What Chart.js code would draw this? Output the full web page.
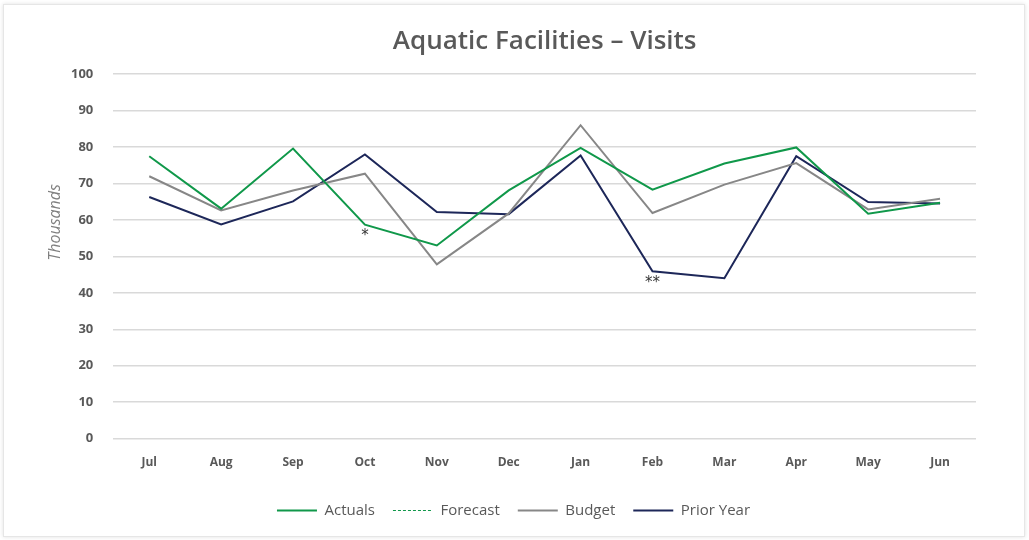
<!DOCTYPE html>
<html>
<head>
<meta charset="utf-8">
<script src="https://cdn.jsdelivr.net/npm/chart.js@4/dist/chart.umd.min.js"></script>
<style>
  html, body { margin: 0; padding: 0; background: #fff; }
  #wrap {
    position: absolute; left: 3px; top: 4px; width: 1020px; height: 531px;
    border: 1px solid #e6e6e6; box-shadow: 0 0 4px rgba(0,0,0,0.12); background: #fff;
  }
</style>
</head>
<body>
<div id="wrap"><canvas id="chart"></canvas></div>
<script>
// Months of the financial year
const months = ['Jul', 'Aug', 'Sep', 'Oct', 'Nov', 'Dec', 'Jan', 'Feb', 'Mar', 'Apr', 'May', 'Jun'];

// Visits, thousands
const actuals   = [77.5, 63.1, 79.6, 58.7, 53.0, 68.1, 79.8, 68.3, 75.5, 79.9, 61.7, 64.7];
const forecast  = [null, null, null, null, null, null, null, null, null, null, null, null];
const budget    = [72.0, 62.6, 68.1, 72.7, 47.8, 61.8, 86.0, 61.9, 69.7, 75.6, 62.9, 65.8];
const priorYear = [66.3, 58.8, 65.1, 78.0, 62.2, 61.6, 77.7, 45.9, 44.0, 77.5, 64.9, 64.5];

// Footnote markers under points
const notes = [
    { series: 0, month: 'Oct', text: '*' },
    { series: 3, month: 'Feb', text: '**' }
];

const yTitle = 'Thousands';
const textGrey = '#595959';

// Draws the footnote asterisks and the y axis caption
const notesPlugin = {
    id: 'notes',
    afterDatasetsDraw(chart) {
        const ctx = chart.ctx;
        const area = chart.chartArea;
        ctx.save();
        ctx.fillStyle = '#333';
        ctx.font = '15px "DejaVu Sans"';
        ctx.textAlign = 'center';
        ctx.textBaseline = 'top';
        notes.forEach(n => {
            const i = months.indexOf(n.month);
            const v = chart.data.datasets[n.series].data[i];
            const x = chart.scales.x.getPixelForValue(i);
            const y = chart.scales.y.getPixelForValue(v);
            ctx.fillText(n.text, x, y + 4);
        });

        // axis caption, sits a bit above the middle like the original
        ctx.translate(area.left - 58, (area.top + area.bottom) / 2 - 34);
        ctx.rotate(-Math.PI / 2);
        ctx.fillStyle = '#7f7f7f';
        ctx.font = 'italic 16px "Open Sans"';
        ctx.textBaseline = 'middle';
        ctx.fillText(yTitle, 0, 0);
        ctx.restore();
    }
};

const ctx = document.getElementById('chart').getContext('2d');
new Chart(ctx, {
    type: 'line',
    data: {
        labels: months,
        datasets: [{
            label: 'Actuals',
            data: actuals,
            borderColor: '#10984a',
            borderWidth: 2,
            pointRadius: 0,
            tension: 0
        }, {
            label: 'Forecast',
            data: forecast,
            borderColor: '#10984a',
            borderWidth: 1,
            borderDash: [3, 2],
            pointRadius: 0
        }, {
            label: 'Budget',
            data: budget,
            borderColor: '#878787',
            borderWidth: 2,
            pointRadius: 0,
            tension: 0
        }, {
            label: 'Prior Year',
            data: priorYear,
            borderColor: '#1d2759',
            borderWidth: 2,
            pointRadius: 0,
            tension: 0
        }]
    },
    options: {
        responsive: true,
        maintainAspectRatio: false,
        animation: false,
        layout: {
            padding: { left: 47, right: 48, top: 21, bottom: 8 }
        },
        scales: {
            x: {
                offset: true,
                grid: { display: false },
                border: { display: false },
                ticks: {
                    color: textGrey,
                    padding: 9,
                    font: { family: '"Open Sans"', size: 12, weight: 'bold' }
                },
                // extra room between the month labels and the key
                afterFit(scale) { scale.height += 6; }
            },
            y: {
                min: 0,
                max: 100,
                ticks: {
                    stepSize: 10,
                    color: textGrey,
                    padding: 20,
                    font: { family: '"Open Sans"', size: 13, weight: 'bold' }
                },
                grid: { color: '#d9d9d9', lineWidth: 1.5, drawTicks: false },
                border: { display: false }
            }
        },
        plugins: {
            title: {
                display: true,
                fullSize: false,
                text: 'Aquatic Facilities \u2013 Visits',
                color: textGrey,
                padding: { top: 0, bottom: 17 },
                font: { family: '"Open Sans"', size: 26, weight: '600' }
            },
            legend: {
                position: 'bottom',
                labels: {
                    usePointStyle: true,
                    pointStyle: 'line',
                    pointStyleWidth: 40,
                    color: textGrey,
                    padding: 18,
                    font: { family: '"Open Sans"', size: 15 },
                    // keep the dashed look of the forecast line in the key
                    generateLabels(chart) {
                        const items = Chart.defaults.plugins.legend.labels.generateLabels(chart);
                        items.forEach(it => {
                            it.lineDash = chart.data.datasets[it.datasetIndex].borderDash || [];
                        });
                        return items;
                    }
                }
            },
            tooltip: { enabled: false }
        }
    },
    plugins: [notesPlugin]
});
</script>
</body>
</html>
